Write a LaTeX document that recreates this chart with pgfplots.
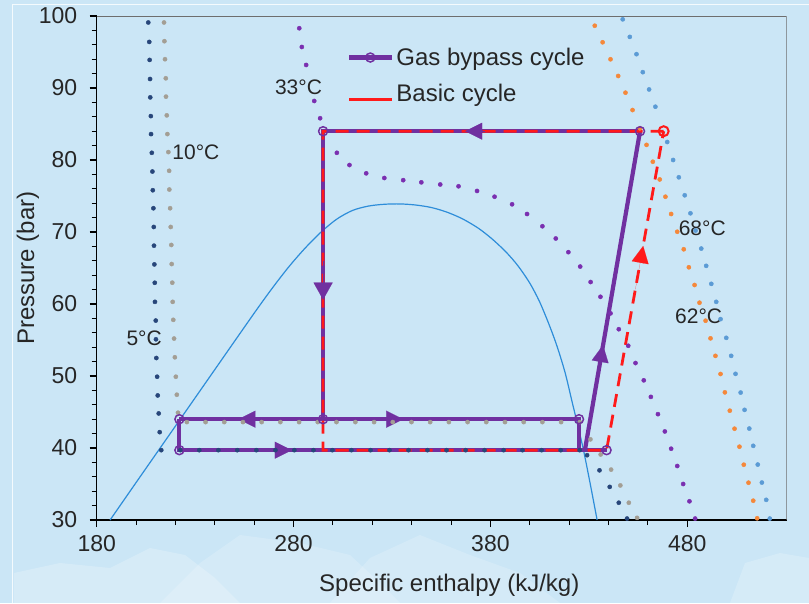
\documentclass[border=0pt]{standalone}
\usepackage{fontspec}
\setmainfont{Liberation Sans}
\usepackage{pgfplots}
\pgfplotsset{compat=1.18}
\usetikzlibrary{arrows.meta,backgrounds}

\definecolor{bgblue}{HTML}{CBE6F6}
\definecolor{cyclepurple}{HTML}{7030A0}
\definecolor{cyclered}{HTML}{FF1A1A}
\definecolor{domeblue}{HTML}{2E8DD9}
\definecolor{isoA}{HTML}{27467A}
\definecolor{isoB}{HTML}{A39E94}
\definecolor{isoC}{HTML}{7A2FB0}
\definecolor{isoD}{HTML}{F5883A}
\definecolor{isoE}{HTML}{5B9BD5}
\definecolor{txt}{HTML}{262626}
\definecolor{framegray}{HTML}{6E6E6E}

\begin{document}
\begin{tikzpicture}
\begin{axis}[
  scale only axis, width=690pt, height=504pt,
  xmin=180, xmax=530.5, ymin=30, ymax=100,
  xtick={180,280,380,480}, ytick={30,40,...,100},
  minor x tick num=4, minor y tick num=4,
  axis lines*=left,
  axis line style={line width=1.3pt, black},
  tick style={line width=1.1pt, black},
  tick align=outside, major tick length=7pt, minor tick length=5pt,
  /pgf/number format/assume math mode=true,
  ticklabel style={font=\fontsize{23}{27}\selectfont, text=txt},
  xticklabel style={yshift=-5pt},
  yticklabel style={xshift=-9pt},
  xlabel={Specific enthalpy (kJ/kg)},
  ylabel={Pressure (bar)},
  label style={font=\fontsize{24}{28}\selectfont, text=txt},
  xlabel style={at={(axis description cs:0.511,-0.129)}, anchor=center},
  ylabel style={at={(axis description cs:-0.0996,0.5)}, anchor=center},
  legend style={at={(rel axis cs:0.3628,0.882)}, anchor=west, draw=none, fill=none,
    font=\fontsize{24}{28}\selectfont, text=txt, row sep=13pt, inner sep=0pt},
  legend cell align=left,
]
\addlegendimage{legend image code/.code={
  \draw[cyclepurple, line width=4.2pt] (0pt,0pt) -- (43pt,0pt);
  \draw[cyclepurple, line width=1.5pt] (21pt,0pt) circle (4.5pt);}}
\addlegendentry{Gas bypass cycle}
\addlegendimage{legend image code/.code={
  \draw[cyclered, line width=3pt] (0pt,-6pt) -- (43pt,-6pt);}}
\addlegendentry{Basic cycle}

% saturation dome
\addplot[domeblue, line width=1.2pt, smooth, tension=0.5] coordinates {
  (186.8,30.0) (200,35.2) (213,40.3) (226,45.4) (239,50.5) (252,55.6) (262,59.5)
  (270,62.5) (278,65.3) (286,67.8) (294,70.0) (302,71.8) (310,73.0) (318,73.6)
  (326,73.85) (334,73.9) (342,73.75) (350,73.4) (358,72.75) (366,71.8) (374,70.5)
  (381,69.0) (388,67.2) (394,65.3) (400,62.9) (405,60.3) (410,57.0) (414,54.0)
  (418,50.4) (421.5,46.4) (424.5,43.0) (427.2,39.8) (430.5,35.3) (434.2,30.0)};

% gas bypass cycle
\addplot[cyclepurple, line width=4.2pt] coordinates {(456,84) (295,84) (295,44)};
\addplot[cyclepurple, line width=4.2pt] coordinates {(222,44) (425,44) (425,39.7)};
\addplot[cyclepurple, line width=4.2pt] coordinates {(222,44) (222,39.7) (439,39.7)};
\addplot[cyclepurple, line width=4.2pt] coordinates {(428,39.7) (456,84)};

% basic cycle
\addplot[cyclered, line width=2.8pt, dash pattern=on 13pt off 8pt] coordinates {
  (468,84) (295,84) (295,39.7) (439,39.7) (468,84)};

% isotherms
\addplot[only marks, mark=*, mark size=2.1pt, isoA] coordinates {
  (206.2,99.1) (206.7,96.4) (206.9,93.9) (207.1,91.25) (207.2,88.7) (207.5,86.1)
  (207.6,83.6) (208.0,81.0) (208.3,78.4) (208.5,75.8) (208.8,73.3) (209.0,70.7)
  (209.1,68.1) (209.3,65.5) (209.5,62.95) (209.6,60.3) (210.0,57.7) (210.1,55.1)
  (210.3,52.5) (210.7,49.9) (211.0,47.3) (211.5,44.8) (212.0,42.2) (212.8,39.7)
  (222.5,39.7) (232.1,39.7) (241.8,39.7) (251.4,39.7) (261.1,39.7) (270.8,39.7)
  (280.4,39.7) (290.1,39.7) (299.7,39.7) (309.4,39.7) (319.1,39.7) (328.7,39.7)
  (338.4,39.7) (348.0,39.7) (357.7,39.7) (367.4,39.7) (377.0,39.7) (386.7,39.7)
  (396.3,39.7) (406.0,39.7) (415.7,39.7) (425.3,39.7)
  (429.1,39.0) (435.4,36.9) (440.6,34.6) (445.2,32.4) (449.4,30.2)};
\addplot[only marks, mark=*, mark size=2.1pt, isoB] coordinates {
  (214.2,99.1) (214.4,96.5) (214.7,94.0) (215.1,91.35) (215.2,88.8) (215.6,86.2)
  (215.9,83.6) (216.4,81.1) (216.8,78.5) (216.9,75.9) (217.3,73.3) (217.6,70.7)
  (217.9,68.2) (218.1,65.55) (218.4,62.96) (218.6,60.3) (218.9,57.8) (219.3,55.2)
  (219.7,52.6) (220.2,49.9) (220.7,47.4) (221.3,44.9)
  (225.8,43.6) (235.3,43.6) (244.8,43.6) (254.3,43.6) (263.8,43.6) (273.3,43.6)
  (282.8,43.6) (292.3,43.6) (301.8,43.6) (311.4,43.6) (320.9,43.6) (330.4,43.6)
  (339.9,43.6) (349.4,43.6) (358.9,43.6) (368.4,43.6) (377.9,43.6) (387.4,43.6)
  (396.9,43.6) (406.4,43.6) (415.9,43.6) (425.4,43.6)
  (430.8,41.2) (436.0,39.1) (441.3,37.0) (446.0,34.8) (450.3,32.4) (454.5,30.3)};
\addplot[only marks, mark=*, mark size=2.1pt, isoC] coordinates {
  (282.9,98.3) (284.2,95.7) (286.4,93.2) (290.5,88.2) (293.5,85.8)
  (302.0,81.0) (308.4,79.3) (316.9,78.15) (326.1,77.5) (335.7,77.2) (344.9,76.9)
  (354.5,76.6) (363.8,76.35) (373.2,75.7) (382.1,74.9) (391.0,73.85) (398.6,72.5)
  (406.4,70.8) (413.2,69.1) (419.6,67.2) (425.6,65.2) (430.9,63.05) (435.9,61.0)
  (441.0,58.7) (445.2,56.5) (450.0,54.2) (453.7,51.8) (457.9,49.4) (461.5,47.1)
  (465.1,44.7) (468.6,42.3) (471.8,39.9) (474.9,37.5) (477.9,35.0) (481.1,32.6)
  (484.0,30.2)};
\addplot[only marks, mark=*, mark size=2.1pt, isoD] coordinates {
  (433.0,98.65) (437.0,96.35) (441.0,93.99) (444.9,91.67) (448.6,89.35) (452.2,86.94)
  (455.9,84.4) (459.3,82.1) (462.5,79.76) (466.0,77.3) (468.9,74.9) (471.8,72.5)
  (474.9,70.04) (478.2,67.6) (480.8,65.1) (483.7,62.64) (486.2,60.18) (489.3,57.68)
  (491.8,55.23) (494.3,52.8) (496.9,50.28) (499.1,47.73) (501.6,45.18) (504.0,42.68)
  (506.5,40.18) (508.7,37.68) (511.1,35.18) (513.5,32.68) (515.5,30.24)};
\addplot[only marks, mark=*, mark size=2.1pt, isoE] coordinates {
  (447.2,99.54) (450.8,97.1) (454.2,94.7) (457.4,92.2) (460.6,89.8) (463.8,87.4)
  (469.8,82.5) (472.8,80.0) (475.7,77.6) (478.7,75.1) (481.6,72.6)
  (484.2,70.2) (487.1,67.7) (489.6,65.3) (492.2,62.8) (494.7,60.3) (496.9,57.9)
  (499.8,55.3) (502.3,52.8) (504.5,50.3) (507.1,47.7) (509.1,45.3) (511.5,42.7)
  (513.5,40.3) (515.8,37.7) (517.9,35.2) (520.1,32.8) (521.9,30.2)};

% state points
\addplot[only marks, mark=o, mark size=4.5pt, mark options={cyclepurple, line width=1.5pt}]
  coordinates {(295,84) (456,84) (295,44) (222,44) (222,39.7) (425,44) (439,39.7)};
\addplot[only marks, mark=o, mark size=5pt, mark options={cyclered, line width=2pt}]
  coordinates {(468,84)};

% flow direction arrows
\addplot[cyclepurple, line width=0.1pt, -{Triangle[length=17pt,width=19pt]}] coordinates {(295,66) (295,60.6)};
\addplot[cyclepurple, line width=0.1pt, -{Triangle[length=17pt,width=17pt]}] coordinates {(262,44) (252,44)};
\addplot[cyclepurple, line width=0.1pt, -{Triangle[length=17pt,width=17pt]}] coordinates {(325,44) (335.7,44)};
\addplot[cyclepurple, line width=0.1pt, -{Triangle[length=17pt,width=17pt]}] coordinates {(269,39.7) (279.1,39.7)};
\addplot[cyclepurple, line width=0.1pt, -{Triangle[length=17pt,width=17pt]}] coordinates {(432.6,47) (437.2,54.3)};
\addplot[cyclepurple, line width=0.1pt, -{Triangle[length=17pt,width=17pt]}] coordinates {(377,84) (367.2,84)};
\addplot[cyclered, line width=0.1pt, -{Triangle[length=17pt,width=17pt]}] coordinates {(453.6,62) (457.6,68.06)};

% temperature labels
\node[font=\fontsize{21}{25}\selectfont, text=txt] at (axis cs:282.5,90.1) {33°C};
\node[font=\fontsize{21}{25}\selectfont, text=txt] at (axis cs:230.4,81.07) {10°C};
\node[font=\fontsize{21}{25}\selectfont, text=txt] at (axis cs:204.1,55.2) {5°C};
\node[font=\fontsize{21}{25}\selectfont, text=txt] at (axis cs:487.6,70.5) {68°C};
\node[font=\fontsize{21}{25}\selectfont, text=txt] at (axis cs:485.8,58.3) {62°C};

\draw[framegray, line width=1.2pt] (rel axis cs:0,1) -- (rel axis cs:1,1) -- (rel axis cs:1,0);
\coordinate (axorigin) at (rel axis cs:0,0);
\end{axis}

% page background, placed relative to the plot area
\begin{scope}[on background layer, shift={(axorigin)}, xshift=-96.7pt, yshift=-83pt, x=1pt, y=1pt]
\fill[bgblue] (0,0) rectangle (809,603);
\fill[white, opacity=0.22] (14,0) -- (14,30) -- (60,40) -- (110,35) -- (150,55) -- (185,48) -- (215,25) -- (240,0) -- cycle;
\fill[white, opacity=0.18] (160,0) -- (200,40) -- (240,68) -- (300,60) -- (350,48) -- (380,20) -- (400,0) -- cycle;
\fill[white, opacity=0.18] (330,0) -- (370,45) -- (420,68) -- (470,48) -- (520,30) -- (560,0) -- cycle;
\fill[white, opacity=0.20] (730,0) -- (745,40) -- (780,50) -- (809,45) -- (809,0) -- cycle;
\draw[white, line width=1.5pt, opacity=0.8] (12.5,0) -- (12.5,598.5) -- (809,598.5);
\end{scope}
\pgfresetboundingbox
\path[use as bounding box] (axorigin) ++(-96.7pt,-83pt) rectangle ++(809pt,603pt);
\end{tikzpicture}
\end{document}
